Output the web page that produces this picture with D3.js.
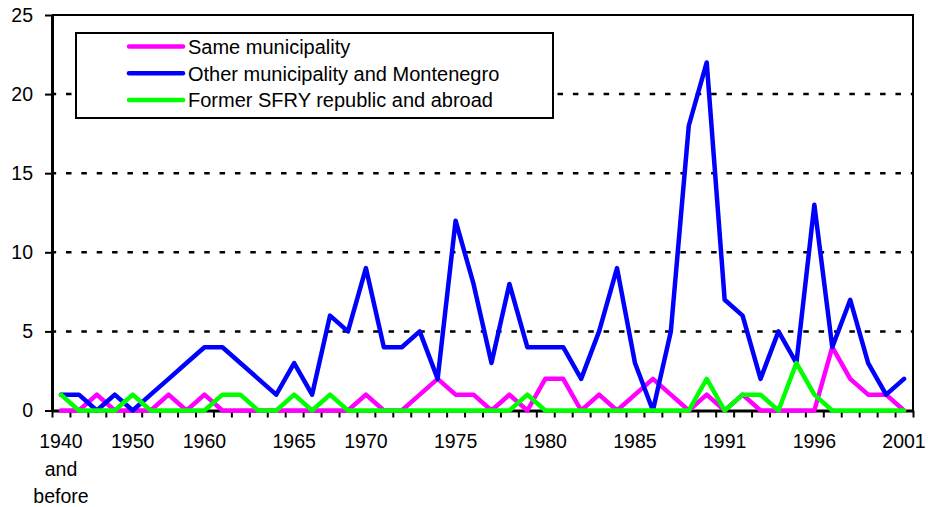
<!DOCTYPE html>
<html>
<head>
<meta charset="utf-8">
<script src="https://cdn.jsdelivr.net/npm/d3@7"></script>
<style>
  body { margin: 0; background: #fff; }
  svg { display: block; font-family: "Liberation Sans", Arial, sans-serif; }
</style>
</head>
<body>
<svg width="928" height="507"></svg>
<script>
// 48 periods on the x axis, only some of them carry a label
var periodCount = 48;
var labelAt = [0, 4, 8, 13, 17, 22, 27, 32, 37, 42, 47];
var labelText = ["1940\nand\nbefore", "1950", "1960", "1965", "1970", "1975", "1980", "1985", "1991", "1996", "2001"];
var yTicks = [0, 5, 10, 15, 20, 25];

var sameMunicipality = [0, 0, 1, 0, 0, 0, 1, 0, 1, 0, 0, 0, 0, 0, 0, 0, 0, 1, 0, 0, 1, 2, 1, 1,
                        0, 1, 0, 2, 2, 0, 1, 0, 1, 2, 1, 0, 1, 0, 1, 0, 0, 0, 0, 4, 2, 1, 1, 0];
var otherMunicipality = [1, 1, 0, 1, 0, 1, 2, 3, 4, 4, 3, 2, 1, 3, 1, 6, 5, 9, 4, 4, 5, 2, 12, 8,
                         3, 8, 4, 4, 4, 2, 5, 9, 3, 0, 5, 18, 22, 7, 6, 2, 5, 3, 13, 4, 7, 3, 1, 2];
var formerSfry = [1, 0, 0, 0, 1, 0, 0, 0, 0, 1, 1, 0, 0, 1, 0, 1, 0, 0, 0, 0, 0, 0, 0, 0,
                  0, 0, 1, 0, 0, 0, 0, 0, 0, 0, 0, 0, 2, 0, 1, 1, 0, 3, 1, 0, 0, 0, 0, 0];

var seriesNames = ["Same municipality", "Other municipality and Montenegro", "Former SFRY republic and abroad"];
var seriesColors = ["#ff00ff", "#0000ff", "#00ff00"];
var seriesValues = [sameMunicipality, otherMunicipality, formerSfry];

var margin = {top: 15, right: 15, bottom: 96.5, left: 52};
var width = 928, height = 507;

var svg = d3.select('svg');

var idx = d3.range(periodCount);
var xScale = d3.scaleBand()
    .domain(idx)
    .range([margin.left, width - margin.right]);
var xEdge = d3.scaleLinear()
    .domain([0, periodCount])
    .range([margin.left, width - margin.right]);
var yScale = d3.scaleLinear()
    .domain([0, 25])
    .range([height - margin.bottom, margin.top]);

// dotted grid lines
svg.append('g')
    .selectAll('line')
    .data(yTicks.filter(d => d > 0 && d < 25))
    .enter().append('line')
    .attr('x1', margin.left)
    .attr('x2', width - margin.right)
    .attr('y1', d => yScale(d))
    .attr('y2', d => yScale(d))
    .attr('stroke', '#000')
    .attr('stroke-width', 2.5)
    .attr('stroke-dasharray', '5.5,9.86')
    .attr('stroke-dashoffset', 1.36);

// frame top and right
svg.append('path')
    .attr('d', 'M' + margin.left + ',' + yScale(25) + 'H' + xEdge(periodCount) + 'V' + yScale(0))
    .attr('fill', 'none')
    .attr('stroke', '#000')
    .attr('stroke-width', 2);

// axes
var xAxis = d3.axisBottom(xEdge)
    .tickValues(d3.range(periodCount + 1))
    .tickFormat('')
    .tickSize(7)
    .tickSizeOuter(0);
var gx = svg.append('g')
    .attr('transform', 'translate(0,' + yScale(0) + ')')
    .call(xAxis);
gx.select('.domain').attr('stroke-width', 3);
gx.selectAll('.tick line').attr('stroke-width', 2);

var yAxis = d3.axisLeft(yScale)
    .tickValues(yTicks)
    .tickSize(7)
    .tickPadding(12)
    .tickSizeOuter(0);
var gy = svg.append('g')
    .attr('transform', 'translate(' + margin.left + ',0)')
    .call(yAxis);
gy.select('.domain').attr('stroke-width', 3);
gy.selectAll('.tick line').attr('stroke-width', 2);
gy.selectAll('.tick text')
    .attr('font-size', 19.5)
    .attr('font-family', '"Liberation Sans", Arial, sans-serif')
    .attr('fill', '#000');

// x labels at band centres
var xl = svg.append('g')
    .selectAll('text')
    .data(labelAt)
    .enter().append('text')
    .attr('x', d => xScale(d) + xScale.bandwidth() / 2)
    .attr('y', 448)
    .attr('text-anchor', 'middle')
    .attr('font-size', 19.5)
    .attr('fill', '#000');
xl.each(function (d, i) {
    var lines = labelText[i].split('\n');
    d3.select(this).selectAll('tspan')
        .data(lines)
        .enter().append('tspan')
        .attr('x', xScale(d) + xScale.bandwidth() / 2)
        .attr('dy', (l, j) => j === 0 ? 0 : 27.5)
        .text(l => l);
});

// series lines
var line = d3.line()
    .x((d, i) => xScale(i) + xScale.bandwidth() / 2)
    .y(d => yScale(d));

svg.append('g')
    .selectAll('path')
    .data(seriesValues)
    .enter().append('path')
    .attr('d', d => line(d))
    .attr('fill', 'none')
    .attr('stroke', (d, i) => seriesColors[i])
    .attr('stroke-width', 4.5)
    .attr('stroke-linejoin', 'round')
    .attr('stroke-linecap', 'round');

// legend
var legend = svg.append('g');
legend.append('rect')
    .attr('x', 76)
    .attr('y', 33)
    .attr('width', 477)
    .attr('height', 85)
    .attr('fill', '#fff')
    .attr('stroke', '#000')
    .attr('stroke-width', 2);

var item = legend.selectAll('g.item')
    .data(seriesNames)
    .enter().append('g')
    .attr('class', 'item')
    .attr('transform', (d, i) => 'translate(0,' + (46.5 + i * 26.8) + ')');
item.append('line')
    .attr('x1', 129)
    .attr('x2', 183)
    .attr('stroke', (d, i) => seriesColors[i])
    .attr('stroke-width', 4.5)
    .attr('stroke-linecap', 'round');
item.append('text')
    .attr('x', 188)
    .attr('dy', '0.36em')
    .attr('font-size', 20)
    .attr('fill', '#000')
    .text(d => d);
</script>
</body>
</html>
